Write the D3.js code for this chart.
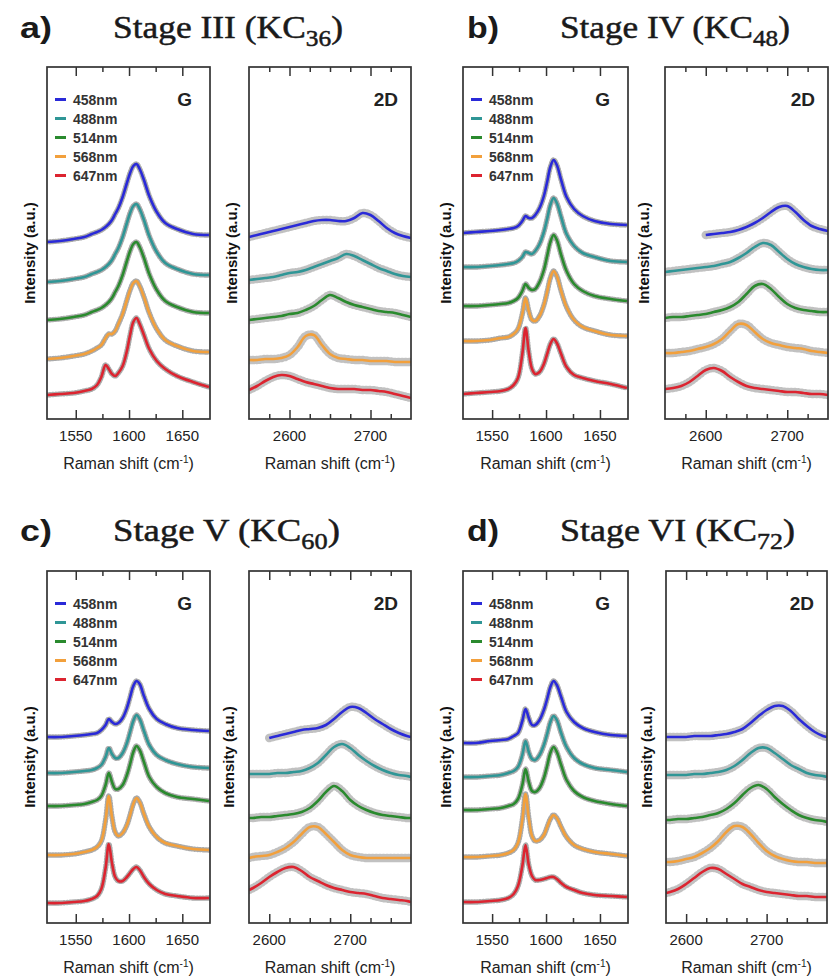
<!DOCTYPE html>
<html><head><meta charset="utf-8">
<script src="https://cdn.jsdelivr.net/npm/d3@7/dist/d3.min.js"></script>
<style>body{margin:0;background:#fff}</style></head>
<body><svg id="c" width="833" height="976"></svg>
<script>
// ---------- data ----------
const lasers = ["458nm","488nm","514nm","568nm","647nm"];
const colors = ["#2a2ad8","#2f9696","#2a8a2e","#f2a03c","#dc2430"];

// G band Raman shift grid (cm^-1)
const G_SHIFT = [1523,1535,1548,1558,1565,1570,1574,1578,1581,1584,1587,1590,1594,1598,1601,1604,1607,1610,1614,1619,1626,1634,1645,1660,1675];
// 2D band Raman shift grids (cm^-1)
const D_SHIFT_AB = [2550,2560,2570,2580,2590,2600,2610,2620,2630,2640,2650,2660,2670,2680,2690,2700,2710,2720,2730,2740,2750];
const D_SHIFT_CD = [2575,2580,2590,2600,2610,2620,2630,2640,2650,2660,2670,2680,2690,2700,2710,2720,2730,2740,2750,2760,2770,2775];

// intensities (a.u., offset stacked) order: 458, 488, 514, 568, 647 nm
const G_III = [
 [177,178,180,182,185,187,189,192,195,199,205,211,222,236,246,253,255,250,239,223,207,196,190,185,184],
 [137,138,140,142,145,147,149,152,155,159,165,171,182,196,206,213,215,210,199,183,167,156,150,145,144],
 [99,100,102,104,107,109,111,114,117,121,127,133,144,158,168,175,177,172,161,145,129,118,112,107,106],
 [60,61,63,65,68,71,74,81,85,85,88,95,105,119,129,136,138,133,122,106,90,79,73,68,67],
 [24,25,26,28,30,34,42,54,50,45,43,46,53,68,84,97,101,95,84,70,58,50,43,37,32]
];
const G_IV = [
 [186,187,188,189,190,191,193,198,203,201,201,204,211,223,237,252,259,254,239,222,210,203,198,195,194],
 [152,152,153,154,155,156,158,162,167,166,165,168,175,187,200,214,221,216,202,185,173,166,162,158,157],
 [113,113,114,115,116,118,121,128,135,131,129,130,137,149,163,177,184,179,164,148,135,128,123,120,118],
 [78,78,79,81,82,85,90,105,121,108,99,98,103,114,127,141,148,143,128,112,99,92,88,84,83],
 [25,26,27,28,30,34,41,65,91,67,50,45,47,55,65,75,80,76,65,52,44,41,38,35,31]
];
const G_V = [
 [186,186,187,188,189,190,193,198,204,201,199,200,205,215,226,237,242,239,227,214,204,199,195,193,192],
 [150,150,151,152,153,155,158,166,175,169,165,165,170,180,191,202,208,204,192,178,168,163,159,156,155],
 [117,117,118,119,121,123,127,138,150,141,134,134,138,148,159,171,177,173,161,146,136,130,126,124,122],
 [68,68,69,71,73,76,82,103,127,106,91,87,90,98,108,119,125,121,109,96,86,80,77,74,73],
 [20,20,21,22,24,27,34,55,79,60,46,42,42,46,50,54,56,53,46,39,33,29,27,25,25]
];
const G_VI = [
 [180,180,182,183,184,187,190,202,214,205,198,198,203,213,224,236,242,238,226,211,201,195,191,188,187],
 [146,146,147,148,150,152,156,168,182,171,164,163,168,178,189,201,207,203,190,176,165,159,155,153,151],
 [113,113,114,115,117,119,124,138,154,141,132,131,135,145,157,170,176,171,158,143,132,126,122,119,117],
 [66,66,67,68,70,73,80,103,129,105,87,82,83,88,96,104,108,105,96,86,78,74,71,69,67],
 [21,21,22,23,25,29,37,57,78,58,47,43,43,44,45,46,46,44,40,36,33,30,28,27,26]
];
const D_III = [
 [182,184,186,188,190,192,194,196,198,199,199,198,198,201,206,204,198,191,186,183,181],
 [139,140,141,142,144,146,147,149,152,155,158,161,165,163,159,155,151,148,145,143,142],
 [99,100,101,102,103,105,106,109,113,119,124,121,117,114,112,110,108,107,106,104,102],
 [59,59,60,60,61,64,72,83,84,74,65,61,60,59,59,58,58,58,57,57,57],
 [29,33,38,42,44,43,40,37,35,33,31,30,30,30,29,29,28,27,25,23,21]
];
const D_IV = [
 [null,null,null,null,null,184,185,186,187,189,192,196,201,207,212,213,207,199,193,190,188],
 [147,148,149,150,151,152,153,155,157,161,166,172,176,174,167,160,155,152,150,149,149],
 [101,102,102,103,104,105,107,109,112,117,125,133,135,130,122,115,111,109,108,107,107],
 [66,66,67,68,70,72,75,80,88,95,94,87,80,76,74,72,71,70,68,67,66],
 [30,31,33,37,43,49,51,48,42,37,33,31,30,29,28,27,27,26,25,25,24]
];
const D_V = [
 [null,null,null,185,187,189,191,193,194,195,198,204,211,216,215,210,204,199,194,190,187,186],
 [149,149,149,149,150,150,151,152,155,160,168,176,179,175,168,162,157,153,150,148,147,146],
 [105,105,106,106,107,108,109,111,115,122,131,137,132,123,117,113,110,108,107,106,105,105],
 [65,66,67,68,71,75,81,89,96,96,89,81,73,68,66,65,65,65,65,65,65,65],
 [33,35,40,46,51,55,56,52,46,42,38,35,33,31,30,29,27,25,24,23,22,21]
];
const D_VI = [
 [186,186,186,186,187,187,187,188,189,191,194,200,207,213,217,217,212,204,197,191,187,186],
 [148,148,148,148,149,149,150,151,153,157,163,170,175,175,170,164,158,154,150,148,147,146],
 [103,103,104,104,105,106,108,110,114,120,128,135,138,134,126,119,113,108,105,103,102,101],
 [61,61,62,64,66,70,75,82,91,97,96,89,80,72,67,64,62,61,61,60,60,60],
 [30,31,34,39,45,51,55,54,49,44,39,36,33,31,30,29,28,27,27,26,26,26]
];

const G_DOMAIN = [1523,1676];
const G_MAJOR = [1550,1600,1650], G_MINOR = [1575,1625];
const D_DOMAIN_AB = [2550,2750], D_DOMAIN_CD = [2575,2775];
const D_MAJOR = [2600,2700];
const D_MINOR_AB = [2575,2625,2650,2675,2725], D_MINOR_CD = [2625,2650,2675,2725,2750];
const Y_DOMAIN = [0,352];

const panels = [
 {lab:"a)", title:"Stage III (KC", sub:"36", G:G_III, D:D_III, dShift:D_SHIFT_AB, dDom:D_DOMAIN_AB, dMin:D_MINOR_AB,
  gx:[47,210], dx:[249,411], top:67, lx:20, tx:[113,343], base:38, yl:[30,232]},
 {lab:"b)", title:"Stage IV (KC", sub:"48", G:G_IV, D:D_IV, dShift:D_SHIFT_AB, dDom:D_DOMAIN_AB, dMin:D_MINOR_AB,
  gx:[463,628], dx:[665,828], top:67, lx:467, tx:[560,790], base:38, yl:[446,644]},
 {lab:"c)", title:"Stage V (KC", sub:"60", G:G_V, D:D_V, dShift:D_SHIFT_CD, dDom:D_DOMAIN_CD, dMin:D_MINOR_CD,
  gx:[47,210], dx:[249,411], top:571, lx:20, tx:[113,340], base:541, yl:[30,229]},
 {lab:"d)", title:"Stage VI (KC", sub:"72", G:G_VI, D:D_VI, dShift:D_SHIFT_CD, dDom:D_DOMAIN_CD, dMin:D_MINOR_CD,
  gx:[463,628], dx:[666,827], top:571, lx:467, tx:[560,795], base:541, yl:[446,647]}
];

// ---------- drawing ----------
const svg = d3.select("#c");
const SANS = "'Liberation Sans', Arial, Helvetica, sans-serif";
const SERIF = "'Liberation Serif', 'Times New Roman', serif";
const BOX_H = 352;
let clipId = 0;

function fitWidth(sel, x0, x1){
  const n = sel.node(); const bb = n.getBBox();
  const s = (x1 - x0) / bb.width;
  sel.attr("transform", `translate(${x0},0) scale(${s},1) translate(${-bb.x},0)`);
}

function drawPlot(p, xr, dom, shifts, series, major, minor, isG, ylx){
  const top = p.top, bottom = top + BOX_H;
  const x = d3.scaleLinear().domain(dom).range(xr);
  const y = d3.scaleLinear().domain(Y_DOMAIN).range([bottom, top]);
  const g = svg.append("g");
  const id = "clip" + (clipId++);
  g.append("clipPath").attr("id", id).append("rect")
    .attr("x", xr[0]).attr("y", top).attr("width", xr[1]-xr[0]).attr("height", BOX_H);
  const plot = g.append("g").attr("clip-path", `url(#${id})`);
  const line = d3.line().defined(d => d[1] != null)
    .x(d => x(d[0])).y(d => y(d[1])).curve(d3.curveCatmullRom.alpha(0.5));
  series.forEach((vals, i) => {
    const pts = shifts.map((s, k) => [s, vals[k]]);
    plot.append("path").attr("d", line(pts)).attr("fill", "none")
      .attr("stroke", "#8e8e8e").attr("stroke-width", isG ? 5.4 : 8.5)
      .attr("stroke-linecap", "round").attr("stroke-linejoin", "round")
      .attr("stroke-dasharray", isG ? "0.6 2.2" : "0.8 2.8").attr("opacity", isG ? 0.75 : 0.55);
    plot.append("path").attr("d", line(pts)).attr("fill", "none")
      .attr("stroke", colors[i]).attr("stroke-width", 2.6)
      .attr("stroke-linejoin", "round");
  });
  // ticks
  const mk = (axisFn, vals, len, ty) => {
    const a = g.append("g").attr("transform", `translate(0,${ty})`)
      .call(axisFn(x).tickValues(vals).tickSize(len).tickSizeOuter(0).tickFormat(""));
    a.select(".domain").remove();
    a.selectAll("line").attr("stroke", "#333").attr("stroke-width", 1.5);
  };
  mk(d3.axisBottom, major, -9, bottom);
  mk(d3.axisBottom, minor, -5, bottom);
  mk(d3.axisTop, major, -9, top);
  mk(d3.axisTop, minor, -5, top);
  g.selectAll(null).data(major).enter().append("text")
    .attr("x", d => x(d)).attr("y", bottom + 22).attr("text-anchor", "middle")
    .attr("font-family", SANS).attr("font-size", 15).attr("fill", "#222").text(d => d);
  // frame
  g.append("rect").attr("x", xr[0]).attr("y", top).attr("width", xr[1]-xr[0]).attr("height", BOX_H)
    .attr("fill", "none").attr("stroke", "#333").attr("stroke-width", 1.7);
  // x label
  const xl = g.append("text").attr("x", (xr[0]+xr[1])/2).attr("y", bottom + 50)
    .attr("text-anchor", "middle").attr("font-family", SANS).attr("font-size", 16).attr("fill", "#222");
  xl.append("tspan").text("Raman shift (cm");
  xl.append("tspan").attr("dy", -6).attr("font-size", 10).text("-1");
  xl.append("tspan").attr("dy", 6).text(")");
  // y label
  g.append("text").attr("transform", `translate(${ylx},${top + 186}) rotate(-90)`)
    .attr("dy", "0.36em").attr("text-anchor", "middle").attr("font-family", SANS)
    .attr("font-weight", "bold").attr("font-size", 15).attr("fill", "#111").text("Intensity (a.u.)");
  // band label
  g.append("text").attr("x", xr[1] - (isG ? 18 : 13)).attr("y", top + 39).attr("text-anchor", "end")
    .attr("font-family", SANS).attr("font-weight", "bold").attr("font-size", 19).attr("fill", "#222")
    .text(isG ? "G" : "2D");
  if (isG) {
    lasers.forEach((l, i) => {
      const ly = top + 32.5 + 19 * i;
      g.append("line").attr("x1", xr[0] + 8).attr("x2", xr[0] + 19).attr("y1", ly).attr("y2", ly)
        .attr("stroke", colors[i]).attr("stroke-width", 3);
      g.append("text").attr("x", xr[0] + 26).attr("y", ly + 5).attr("font-family", SANS)
        .attr("font-weight", "bold").attr("font-size", 14).attr("fill", "#333").text(l);
    });
  }
}

panels.forEach(p => {
  const lab = svg.append("text").attr("y", p.base).attr("font-family", SANS).attr("font-weight", "bold")
    .attr("font-size", 30).attr("fill", "#1a1a1a").text(p.lab);
  fitWidth(lab, p.lx, p.lx + 32);
  const t = svg.append("text").attr("y", p.base).attr("font-family", SERIF).attr("font-size", 32)
    .attr("fill", "#1a1a1a").attr("stroke", "#1a1a1a").attr("stroke-width", 0.5);
  t.append("tspan").text(p.title);
  t.append("tspan").attr("dy", 8).attr("font-size", 23).text(p.sub);
  t.append("tspan").attr("dy", -8).text(")");
  fitWidth(t, p.tx[0], p.tx[1]);
  drawPlot(p, p.gx, G_DOMAIN, G_SHIFT, p.G, G_MAJOR, G_MINOR, true, p.yl[0]);
  drawPlot(p, p.dx, p.dDom, p.dShift, p.D, D_MAJOR, p.dMin, false, p.yl[1]);
});
</script></body></html>
